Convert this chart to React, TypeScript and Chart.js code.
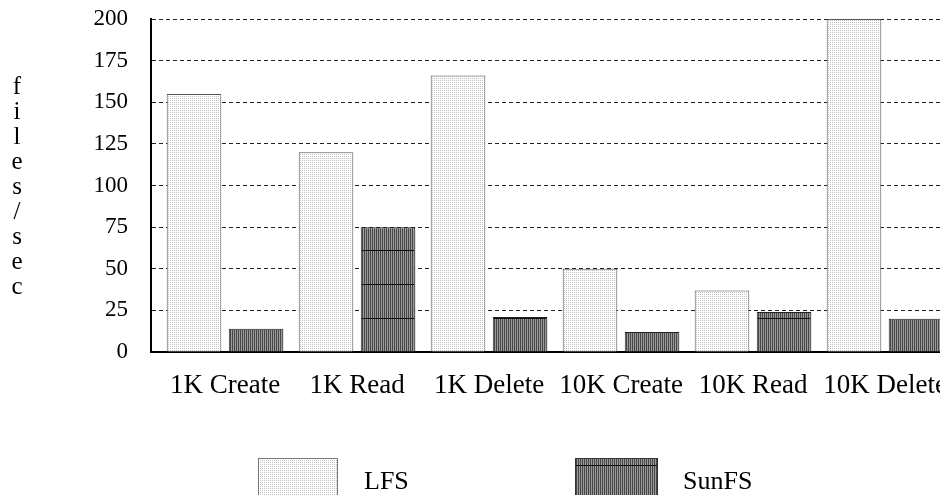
import React, { useEffect, useRef } from "react";
import { Chart, registerables } from "chart.js";

Chart.register(...registerables);

const categories = ["1K Create", "1K Read", "1K Delete", "10K Create", "10K Read", "10K Delete"];
const lfsValues = [155, 120, 166, 50, 37, 200];
const sunfsValues = [14, 75, 21, 12, 24, 20];
const yTicks = [0, 25, 50, 75, 100, 125, 150, 175, 200];
const yTitle = "files/sec";
const seriesNames = ["LFS", "SunFS"];

const FONT = "'Liberation Serif', 'Times New Roman', serif";

function makeLfsPattern(ctx: CanvasRenderingContext2D) {
  const c = document.createElement("canvas");
  c.width = 2;
  c.height = 2;
  const g = c.getContext("2d")!;
  g.fillStyle = "#ffffff";
  g.fillRect(0, 0, 2, 2);
  g.fillStyle = "#c2c2c2";
  g.fillRect(0, 0, 1, 1);
  return ctx.createPattern(c, "repeat")!;
}

function makeSunPattern(ctx: CanvasRenderingContext2D, lineRow: number) {
  const c = document.createElement("canvas");
  c.width = 2;
  c.height = 34;
  const g = c.getContext("2d")!;
  g.fillStyle = "#9a9a9a";
  g.fillRect(0, 0, 2, 34);
  g.fillStyle = "#474747";
  g.fillRect(0, 0, 1, 34);
  g.fillStyle = "#111111";
  g.fillRect(0, lineRow, 2, 1);
  return ctx.createPattern(c, "repeat")!;
}

export default function App() {
  const ref = useRef<HTMLCanvasElement | null>(null);

  useEffect(() => {
    const canvas = ref.current!;
    const ctx = canvas.getContext("2d")!;
    const lfsPat = makeLfsPattern(ctx);
    const sunPat = makeSunPattern(ctx, 12);
    const sunLegendPat = makeSunPattern(ctx, 465 % 34);

    const extras = {
      id: "extras",
      afterDraw(chart: any) {
        const c = chart.ctx as CanvasRenderingContext2D;
        c.save();
        c.fillStyle = "#000";
        c.font = `25px ${FONT}`;
        c.textAlign = "center";
        c.textBaseline = "alphabetic";
        yTitle.split("").forEach((ch, k) => {
          c.fillText(ch, 17, 94 + 25 * k);
        });
        c.fillStyle = lfsPat;
        c.fillRect(259, 459, 78, 50);
        c.strokeStyle = "#777";
        c.lineWidth = 1;
        c.strokeRect(258.5, 458.5, 79, 50);
        c.fillStyle = sunLegendPat;
        c.fillRect(576, 459, 81, 50);
        c.strokeStyle = "#333";
        c.strokeRect(575.5, 458.5, 82, 50);
        c.fillStyle = "#000";
        c.font = `26px ${FONT}`;
        c.textAlign = "left";
        c.fillText(seriesNames[0], 364, 489);
        c.fillText(seriesNames[1], 683, 489);
        c.restore();
      },
    };

    const chart = new Chart(canvas, {
      type: "bar",
      data: {
        datasets: [
          {
            label: seriesNames[0],
            data: lfsValues.map((v, i) => ({ x: i, y: v })),
            backgroundColor: lfsPat,
            borderColor: "#555",
            borderWidth: 1,
            categoryPercentage: 0.94,
            barPercentage: 0.88,
          },
          {
            label: seriesNames[1],
            data: sunfsValues.map((v, i) => ({ x: i, y: v })),
            backgroundColor: sunPat,
            borderColor: "#222",
            borderWidth: 1,
            categoryPercentage: 0.94,
            barPercentage: 0.88,
          },
        ] as any,
      },
      options: {
        animation: false,
        responsive: false,
        devicePixelRatio: 1,
        layout: { padding: { top: 19, bottom: 93, left: 0, right: 0 } },
        plugins: { legend: { display: false }, tooltip: { enabled: false } },
        scales: {
          x: {
            type: "linear",
            offset: false,
            min: -0.561,
            max: 5.568,
            grid: {
              display: true,
              drawOnChartArea: false,
              drawTicks: true,
              tickLength: 18,
              color: "rgba(0,0,0,0)",
              tickColor: "rgba(0,0,0,0)",
              offset: false,
            },
            border: { display: true, color: "#000", width: 2 },
            afterFit: (s: any) => {
              s.height = 50;
            },
            ticks: {
              stepSize: 1,
              includeBounds: false,
              autoSkip: false,
              maxRotation: 0,
              padding: 0,
              color: "#000",
              font: { family: FONT, size: 27 },
              callback: (v: any) => (Number.isInteger(v) ? categories[v] : ""),
            },
          } as any,
          y: {
            min: yTicks[0],
            max: yTicks[yTicks.length - 1],
            afterFit: (s: any) => {
              s.width = 151;
            },
            afterBuildTicks: (s: any) => {
              s.ticks = yTicks.map((v) => ({ value: v }));
            },
            grid: {
              color: "#222",
              lineWidth: 1,
              drawTicks: true,
              tickLength: 23,
              tickColor: "rgba(0,0,0,0)",
            },
            border: { display: true, color: "#000", width: 2, dash: [4, 3] },
            ticks: {
              padding: 0,
              color: "#000",
              font: { family: FONT, size: 23 },
            },
          },
        },
      } as any,
      plugins: [extras],
    });

    return () => chart.destroy();
  }, []);

  return (
    <div
      style={{
        position: "fixed",
        left: 0,
        top: 0,
        width: 940,
        height: 495,
        overflow: "hidden",
        background: "#fff",
      }}
    >
      <canvas ref={ref} width={960} height={495} style={{ display: "block" }} />
    </div>
  );
}
